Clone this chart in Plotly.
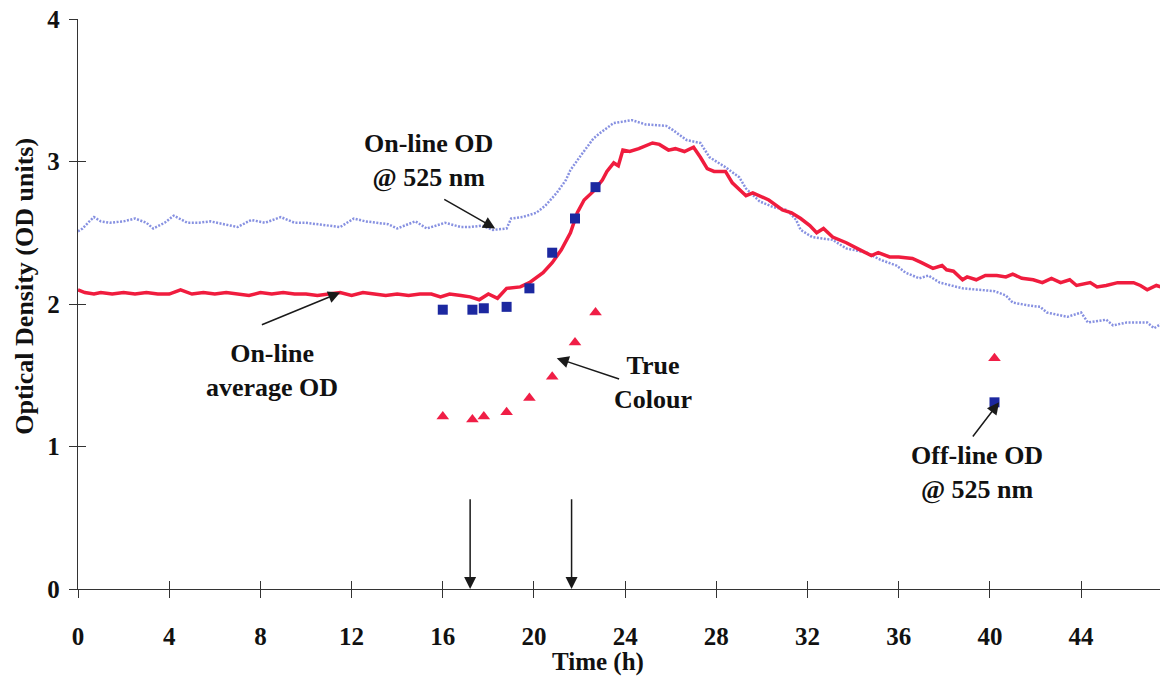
import plotly.graph_objects as go

# On-line average OD (red trace)
avg_t = [0.0, 0.3, 0.7, 1.0, 1.5, 2.0, 2.5, 3.0, 3.5, 4.0, 4.5, 5.0, 5.5, 6.0, 6.5, 7.0,
         7.5, 8.0, 8.5, 9.0, 9.5, 10.0, 10.5, 11.0, 11.5, 12.0, 12.5, 13.0, 13.5, 14.0,
         14.5, 15.0, 15.5, 15.9, 16.3, 16.8, 17.2, 17.6, 18.0, 18.4, 18.8, 19.4, 19.8,
         20.4, 20.8, 21.2, 21.6, 21.9, 22.2, 22.6, 23.0, 23.2, 23.5, 23.7, 23.9, 24.2,
         24.6, 25.2, 25.5, 25.9, 26.2, 26.6, 27.0, 27.3, 27.6, 27.9, 28.4, 28.7, 29.3,
         29.6, 30.3, 30.9, 31.3, 31.7, 32.1, 32.4, 32.7, 33.1, 33.7, 34.3, 34.8, 35.1,
         35.6, 36.0, 36.6, 37.0, 37.5, 37.9, 38.1, 38.4, 38.8, 39.0, 39.4, 39.8, 40.3,
         40.7, 41.0, 41.4, 41.9, 42.3, 42.7, 43.1, 43.5, 43.8, 44.4, 44.7, 45.1, 45.6,
         46.3, 46.6, 46.9, 47.3, 47.5]
avg_od = [2.10, 2.08, 2.07, 2.08, 2.07, 2.08, 2.07, 2.08, 2.07, 2.07, 2.10, 2.07, 2.08,
          2.07, 2.08, 2.07, 2.06, 2.08, 2.07, 2.08, 2.07, 2.07, 2.06, 2.07, 2.08, 2.06,
          2.08, 2.07, 2.06, 2.07, 2.06, 2.07, 2.07, 2.05, 2.07, 2.06, 2.05, 2.03, 2.07,
          2.04, 2.11, 2.12, 2.15, 2.22, 2.29, 2.38, 2.50, 2.64, 2.73, 2.79, 2.87, 2.93,
          2.99, 2.97, 3.08, 3.07, 3.09, 3.13, 3.12, 3.08, 3.09, 3.07, 3.10, 3.03, 2.95,
          2.93, 2.93, 2.85, 2.76, 2.78, 2.73, 2.66, 2.64, 2.60, 2.55, 2.50, 2.53, 2.47,
          2.43, 2.38, 2.34, 2.36, 2.33, 2.33, 2.32, 2.29, 2.25, 2.27, 2.24, 2.23, 2.17,
          2.19, 2.17, 2.20, 2.20, 2.19, 2.21, 2.18, 2.17, 2.15, 2.18, 2.15, 2.17, 2.13,
          2.15, 2.12, 2.13, 2.15, 2.15, 2.13, 2.10, 2.13, 2.12]

# On-line OD @ 525 nm (blue dotted trace)
raw_t = [0.0, 0.2, 0.5, 0.7, 1.0, 1.4, 2.0, 2.5, 3.0, 3.3, 3.8, 4.2, 4.8, 5.3, 5.8, 6.4,
         7.0, 7.6, 8.2, 8.9, 9.5, 10.0, 10.5, 11.0, 11.5, 12.1, 12.6, 13.1, 13.6, 14.0,
         14.8, 15.3, 16.1, 16.8, 17.2, 17.7, 18.2, 18.8, 19.0, 19.5, 20.1, 20.5, 21.0,
         21.4, 21.6, 22.0, 22.6, 22.9, 23.5, 24.3, 24.9, 25.8, 26.1, 26.7, 27.3, 27.7,
         28.4, 29.0, 29.3, 29.9, 30.5, 31.1, 31.5, 31.7, 32.2, 33.1, 33.7, 34.6, 35.2,
         35.9, 36.3, 36.9, 37.3, 37.8, 38.8, 39.5, 40.2, 40.7, 41.0, 41.7, 42.2, 42.5,
         43.4, 44.0, 44.3, 45.1, 45.4, 46.0, 46.9, 47.2, 47.5]
raw_od = [2.51, 2.53, 2.58, 2.61, 2.58, 2.57, 2.58, 2.60, 2.57, 2.53, 2.57, 2.62, 2.57,
          2.57, 2.58, 2.56, 2.54, 2.59, 2.57, 2.61, 2.57, 2.57, 2.56, 2.55, 2.54, 2.60,
          2.58, 2.57, 2.56, 2.53, 2.58, 2.53, 2.57, 2.54, 2.54, 2.55, 2.52, 2.53, 2.60,
          2.61, 2.64, 2.69, 2.78, 2.87, 2.94, 3.03, 3.16, 3.20, 3.27, 3.29, 3.26, 3.25,
          3.22, 3.15, 3.13, 3.03, 2.96, 2.89, 2.81, 2.72, 2.68, 2.66, 2.59, 2.52, 2.47,
          2.45, 2.39, 2.36, 2.31, 2.27, 2.22, 2.18, 2.20, 2.15, 2.11, 2.10, 2.09, 2.06,
          2.01, 1.99, 1.98, 1.94, 1.91, 1.94, 1.87, 1.89, 1.85, 1.87, 1.87, 1.83, 1.86]

# Off-line samples
sample_t = [16.0, 17.3, 17.8, 18.8, 19.8, 20.8, 21.8, 22.7, 40.2]
offline_od = [1.96, 1.96, 1.97, 1.98, 2.11, 2.36, 2.60, 2.82, 1.31]
true_colour = [1.21, 1.19, 1.21, 1.24, 1.34, 1.49, 1.73, 1.94, 1.62]

x_ticks = [0, 4, 8, 12, 16, 20, 24, 28, 32, 36, 40, 44]
y_ticks = [0, 1, 2, 3, 4]

SERIF = "Liberation Serif"
X_RANGE = [0, 47.46]
Y_RANGE = [0, 4]

fig = go.Figure()
fig.add_trace(go.Scatter(x=raw_t, y=raw_od, mode="lines",
                         line=dict(color="rgb(135,145,225)", width=2.5, dash="2px,1.5px"),
                         showlegend=False))
fig.add_trace(go.Scatter(x=avg_t, y=avg_od, mode="lines",
                         line=dict(color="rgb(240,28,62)", width=3.5),
                         showlegend=False))
fig.add_trace(go.Scatter(x=sample_t, y=offline_od, mode="markers",
                         marker=dict(symbol="square", size=10, color="rgb(28,40,160)"),
                         showlegend=False))
# triangles sit on the overlay axes (same ranges), which also carry the inner tick halves
fig.add_trace(go.Scatter(x=sample_t, y=true_colour, mode="markers", xaxis="x2", yaxis="y2",
                         marker=dict(symbol="triangle-up", size=11, color="rgb(240,30,70)"),
                         showlegend=False))

label_font = dict(family=SERIF, size=26, color="#111", weight="bold")

def text_note(x, y, text):
    fig.add_annotation(x=x, y=y, xref="x", yref="y", text=text, showarrow=False,
                       font=label_font, align="center", xanchor="center", yanchor="middle")

def arrow(x_tail, y_tail, x_head, y_head):
    fig.add_annotation(x=x_head, y=y_head, ax=x_tail, ay=y_tail, xref="x", yref="y",
                       axref="x", ayref="y", text="", showarrow=True, arrowhead=2,
                       arrowsize=1.6, arrowwidth=1.5, arrowcolor="#1a1a1a", standoff=0)

text_note(15.37, 3.01, "On-line OD<br>@ 525 nm")
arrow(16.0, 2.74, 18.3, 2.53)
text_note(8.5, 1.53, "On-line<br>average OD")
arrow(8.0, 1.85, 11.5, 2.08)
text_note(25.24, 1.45, "True<br>Colour")
arrow(23.8, 1.47, 21.0, 1.62)
text_note(39.45, 0.82, "Off-line OD<br>@ 525 nm")
arrow(39.2, 1.06, 40.4, 1.31)
arrow(17.2, 0.64, 17.2, 0.0)
arrow(21.65, 0.64, 21.65, 0.0)

# axis titles
fig.add_annotation(x=-0.049, y=0.532, xref="paper", yref="paper",
                   xanchor="center", yanchor="middle",
                   text="Optical Density (OD units)", textangle=-90, showarrow=False,
                   font=dict(family=SERIF, size=26, color="#111", weight="bold"))
fig.add_annotation(x=0.4806, y=-0.128, xref="paper", yref="paper",
                   xanchor="center", yanchor="middle",
                   text="Time (h)", showarrow=False,
                   font=dict(family=SERIF, size=25, color="#111", weight="bold"))

tick_font = dict(family=SERIF, size=25, color="#111", weight="bold")
common = dict(ticklen=8, tickwidth=1.2, tickcolor="#333", showgrid=False, zeroline=False)
fig.update_layout(
    width=1160, height=679, autosize=False,
    margin=dict(l=78, r=0, t=19, b=90),
    paper_bgcolor="white", plot_bgcolor="white",
    xaxis=dict(range=X_RANGE, tickvals=x_ticks, ticks="outside", showline=True,
               linecolor="#333", linewidth=1.3, tickfont=tick_font,
               ticklabelstandoff=17, **common),
    yaxis=dict(range=Y_RANGE, tickvals=y_ticks, ticks="outside", showline=True,
               linecolor="#333", linewidth=1.3, tickfont=tick_font,
               ticklabelstandoff=4, **common),
    xaxis2=dict(range=X_RANGE, tickvals=x_ticks, ticks="inside", showticklabels=False,
                showline=False, overlaying="x", anchor="y2", **common),
    yaxis2=dict(range=Y_RANGE, tickvals=y_ticks, ticks="inside", showticklabels=False,
                showline=False, overlaying="y", anchor="x2", **common),
)

fig.write_html("out.html")
